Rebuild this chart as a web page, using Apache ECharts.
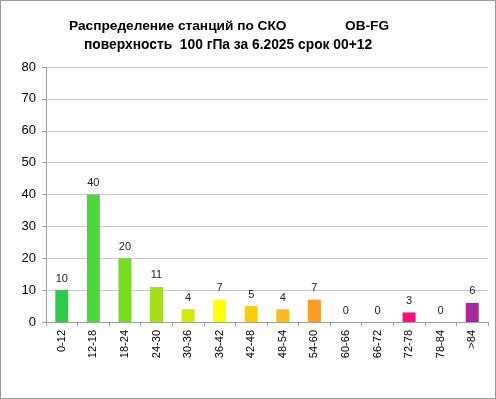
<!DOCTYPE html>
<html>
<head>
<meta charset="utf-8">
<script src="https://cdn.jsdelivr.net/npm/echarts@6/dist/echarts.min.js"></script>
<style>
  html, body { margin: 0; padding: 0; background: #fff; }
  #main { width: 496px; height: 399px; }
</style>
</head>
<body>
<div id="main"></div>
<script>
var categories = ['0-12', '12-18', '18-24', '24-30', '30-36', '36-42', '42-48', '48-54', '54-60', '60-66', '66-72', '72-78', '78-84', '>84'];
var counts = [10, 40, 20, 11, 4, 7, 5, 4, 7, 0, 0, 3, 0, 6];
var barColors = ['#2ccc48', '#4cd83a', '#76dd22', '#a6e01a', '#d4ea00', '#ffff00', '#ffcc00', '#ffbb1c', '#ff9a22', '#ff9a22', '#ff9a22', '#ff0a78', '#ff0a78', '#a8279c'];
var yTicks = [0, 10, 20, 30, 40, 50, 60, 70, 80];

var font = 'Liberation Sans';
var chart = echarts.init(document.getElementById('main'));

var option = {
    animation: false,
    backgroundColor: '#fff',
    textStyle: { fontFamily: font },
    graphic: [
        { type: 'rect', shape: { x: 0.5, y: 0.5, width: 495, height: 398 },
          style: { fill: 'none', stroke: '#9a9a9a', lineWidth: 1 } },
        { type: 'text', left: 69, top: 19,
          style: { text: 'Распределение станций по СКО', font: 'bold 13.7px ' + font, fill: '#000' } },
        { type: 'text', left: 345, top: 19,
          style: { text: 'OB-FG', font: 'bold 13.7px ' + font, fill: '#000' } },
        { type: 'text', left: 84, top: 38,
          style: { text: 'поверхность  100 гПа за 6.2025 срок 00+12', font: 'bold 13.8px ' + font, fill: '#000' } }
    ],
    grid: { left: 46, right: 8, top: 67, bottom: 77 },
    xAxis: {
        type: 'category',
        data: categories,
        axisLine: { lineStyle: { color: '#a0a0a0' } },
        axisTick: { show: true, alignWithLabel: false, length: 4, lineStyle: { color: '#a0a0a0' } },
        axisLabel: { rotate: 90, color: '#000', fontSize: 11, interval: 0, margin: 8 }
    },
    yAxis: {
        type: 'value',
        min: 0,
        max: 80,
        interval: 10,
        axisLine: { show: true, lineStyle: { color: '#a0a0a0' } },
        axisTick: { show: true, length: 4, lineStyle: { color: '#a0a0a0' } },
        axisLabel: { color: '#000', fontSize: 13, margin: 10,
            formatter: function (v) { return yTicks.indexOf(v) >= 0 ? String(v) : ''; } },
        splitLine: { lineStyle: { color: '#c8c8c8' } }
    },
    series: [{
        type: 'bar',
        barWidth: 13,
        data: counts.map(function (v, i) {
            return { value: v, itemStyle: { color: barColors[i] } };
        }),
        label: { show: true, position: 'top', color: '#222', fontSize: 11, distance: 6 }
    }]
};
chart.setOption(option);
</script>
</body>
</html>
